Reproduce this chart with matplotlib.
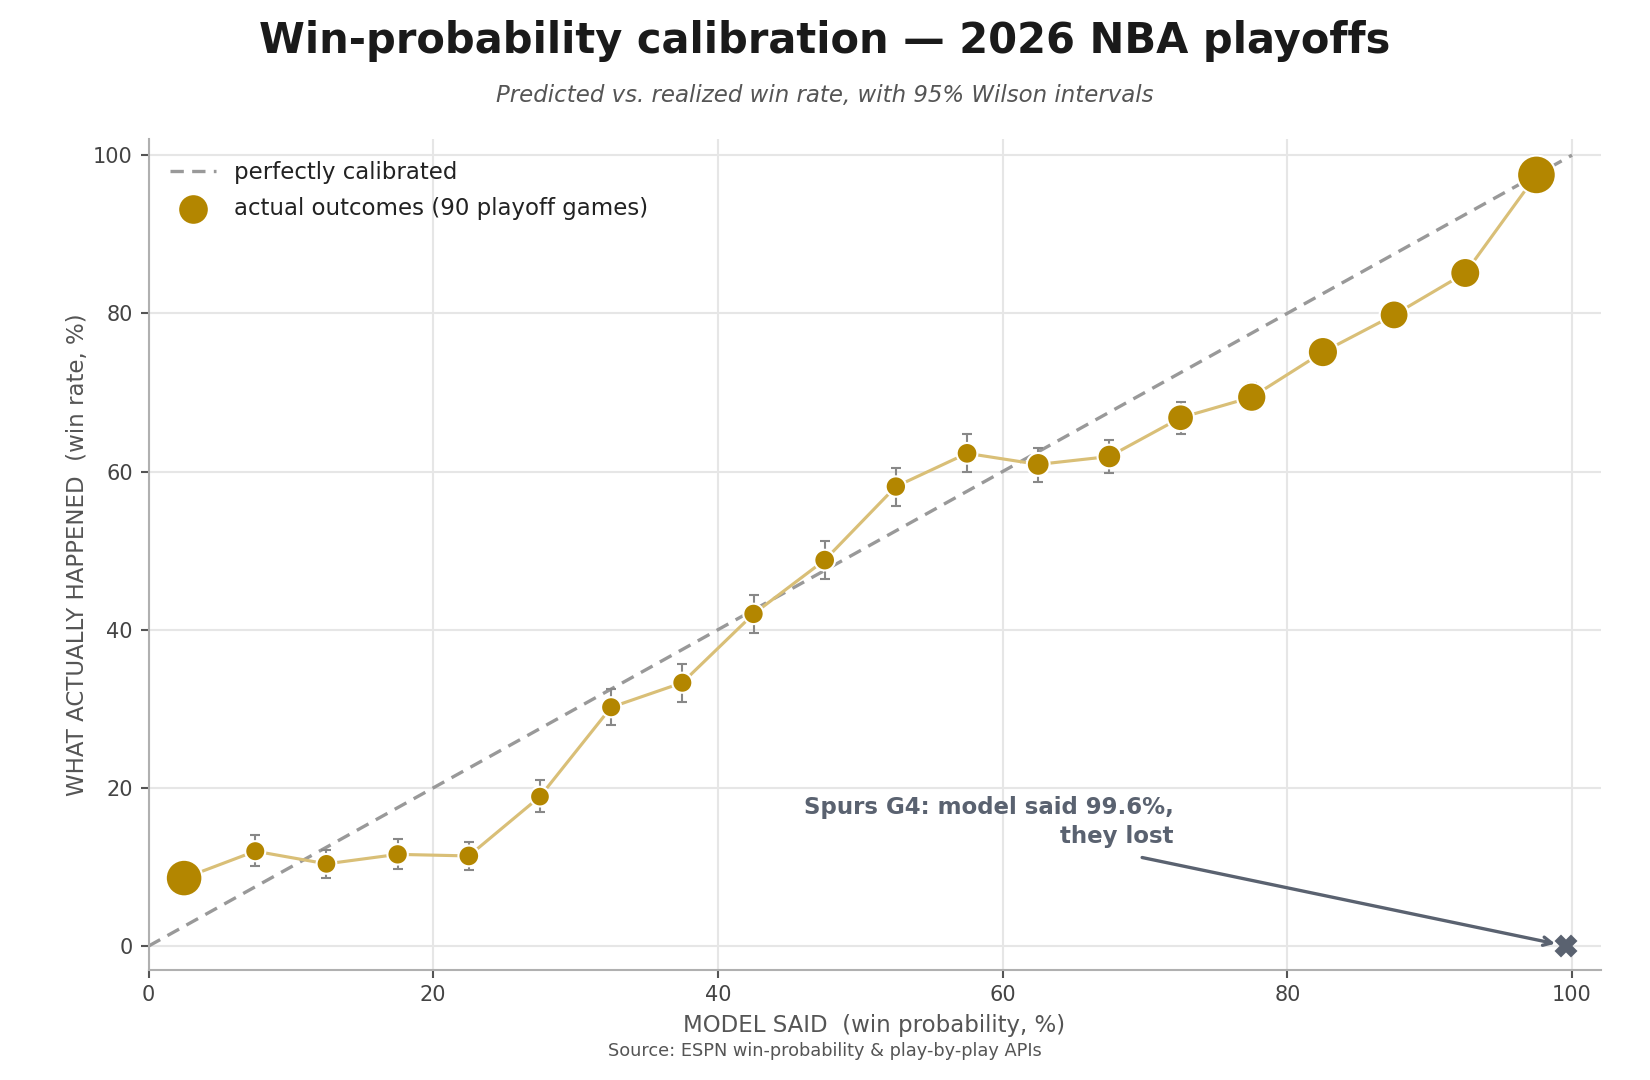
import matplotlib
matplotlib.use("Agg")
import matplotlib.pyplot as plt
import numpy as np

# ---- data ----
bin_centers = [2.5, 7.5, 12.5, 17.5, 22.5, 27.5, 32.5, 37.5, 42.5, 47.5,
               52.5, 57.5, 62.5, 67.5, 72.5, 77.5, 82.5, 87.5, 92.5, 97.5]
win_rate = [8.6, 12.0, 10.4, 11.6, 11.4, 18.9, 30.2, 33.3, 42.0, 48.8,
            58.1, 62.3, 60.9, 61.9, 66.8, 69.4, 75.1, 79.8, 85.1, 97.5]
err_lo = [1.2, 1.9, 1.8, 1.9, 1.8, 1.9, 2.3, 2.4, 2.4, 2.4,
          2.5, 2.4, 2.2, 2.1, 2.0, 1.8, 1.6, 1.5, 1.4, 0.8]
err_hi = [1.2, 2.0, 1.8, 1.9, 1.8, 2.1, 2.3, 2.4, 2.4, 2.4,
          2.4, 2.4, 2.1, 2.1, 2.0, 1.8, 1.6, 1.5, 1.4, 0.8]
bin_counts = [103, 31, 30, 32, 33, 30, 31, 31, 32, 33,
              32, 33, 40, 43, 55, 66, 70, 64, 69, 115]
outlier_pred = 99.6
outlier_actual = 0.0
x_ticks = [0, 20, 40, 60, 80, 100]
y_ticks = [0, 20, 40, 60, 80, 100]

GOLD = "#b38600"
SLATE = "#5a6270"

fig = plt.figure(figsize=(11, 7.2), dpi=150)
ax = fig.add_axes([0.09, 0.102, 0.880, 0.769])

ax.set_xlim(0, 102)
ax.set_ylim(-3, 102)
ax.set_xticks(x_ticks)
ax.set_yticks(y_ticks)
ax.grid(True, color="#e6e6e6", lw=1.0, zorder=0)
ax.set_axisbelow(True)
for s in ["top", "right"]:
    ax.spines[s].set_visible(False)
for s in ["left", "bottom"]:
    ax.spines[s].set_color("#b0b0b0")
    ax.spines[s].set_linewidth(1.0)
ax.tick_params(colors="#555555", labelsize=10, length=4, width=1, labelcolor="#444444")

# perfect calibration
ax.plot([0, 100], [0, 100], ls="--", color="#999999", lw=1.6, dashes=(4, 2.5),
        label="perfectly calibrated", zorder=2)

# connecting line
ax.plot(bin_centers, win_rate, color="#d9bf77", lw=1.5, zorder=2)

# error bars
ax.errorbar(bin_centers, win_rate, yerr=[err_lo, err_hi], fmt="none",
            ecolor="#888888", elinewidth=1.0, capsize=2.5, capthick=1.0, zorder=3)

sizes = [c * 3.0 for c in bin_counts]
ax.scatter(bin_centers, win_rate, s=sizes, color=GOLD, edgecolors="white",
           linewidths=1.0, zorder=4, label="actual outcomes (90 playoff games)")

# outlier
ax.plot([outlier_pred], [outlier_actual], marker="X", color=SLATE, ms=10,
        ls="none", zorder=5, clip_on=False)
ax.text(72.0, 12.4, "Spurs G4: model said 99.6%,\nthey lost", ha="right", va="bottom",
        fontsize=11, fontweight="bold", color=SLATE, linespacing=1.35)
ax.annotate("", xy=(outlier_pred - 0.5, outlier_actual + 0.2), xytext=(69.8, 11.2),
            arrowprops=dict(arrowstyle="->", color=SLATE, lw=1.6,
                            shrinkA=0, shrinkB=2))

leg = ax.legend(loc="upper left", frameon=False, fontsize=11, handlelength=2.0,
                borderaxespad=0.55, labelspacing=0.56)
for t in leg.get_texts():
    t.set_color("#222222")

ax.set_xlabel("MODEL SAID  (win probability, %)", fontsize=11, color="#555555", labelpad=4)
ax.set_ylabel("WHAT ACTUALLY HAPPENED  (win rate, %)", fontsize=11, color="#555555", labelpad=2)

fig.text(0.5, 0.962, "Win-probability calibration \u2014 2026 NBA playoffs",
         ha="center", va="center", fontsize=20, fontweight="bold", color="#1a1a1a")
fig.text(0.5, 0.912, "Predicted vs. realized win rate, with 95% Wilson intervals",
         ha="center", va="center", fontsize=11, style="italic", color="#555555")
fig.text(0.5, 0.027, "Source: ESPN win-probability & play-by-play APIs",
         ha="center", va="center", fontsize=8.5, color="#555555")

fig.savefig("out.png", dpi=150)
